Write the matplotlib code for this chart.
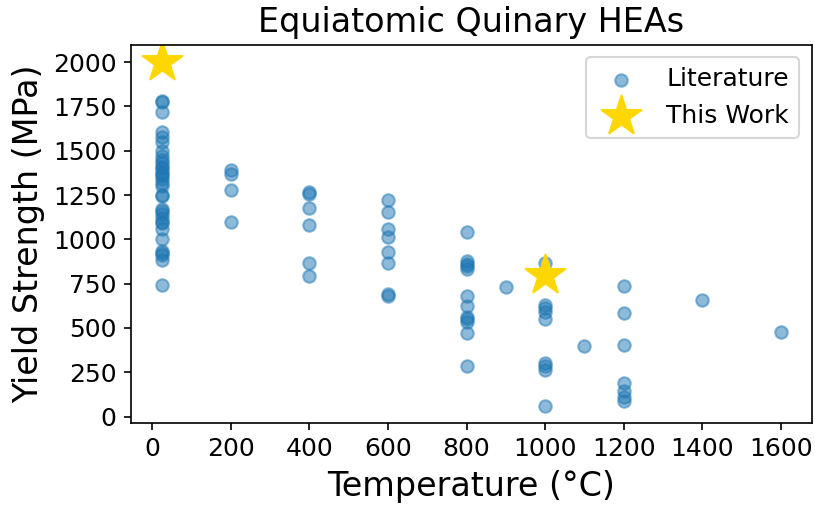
import matplotlib
matplotlib.use("Agg")
import matplotlib.pyplot as plt

# literature data, grouped by test temperature
temp_25 = [1780, 1775, 1720, 1605, 1580, 1550, 1500, 1470, 1450, 1430, 1410, 1400,
           1380, 1370, 1360, 1340, 1320, 1300, 1250, 1245, 1170, 1160, 1145, 1120,
           1100, 1090, 1060, 1000, 935, 925, 910, 885, 740]
temp_200 = [1390, 1370, 1277, 1099]
temp_400 = [1268, 1258, 1174, 1080, 869, 791]
temp_600 = [1224, 1152, 1060, 1015, 931, 869, 692, 682]
temp_800 = [1043, 875, 862, 848, 832, 679, 622, 560, 548, 535, 473, 286]
temp_900 = [731]
temp_1000 = [866, 632, 612, 592, 548, 300, 285, 262, 62]
temp_1100 = [398]
temp_1200 = [735, 585, 404, 189, 146, 109, 90]
temp_1400 = [660]
temp_1600 = [477]

groups = {25: temp_25, 200: temp_200, 400: temp_400, 600: temp_600, 800: temp_800,
          900: temp_900, 1000: temp_1000, 1100: temp_1100, 1200: temp_1200,
          1400: temp_1400, 1600: temp_1600}

lit_T = []
lit_YS = []
for t, vals in groups.items():
    lit_T += [t] * len(vals)
    lit_YS += vals

# this work
work_T = [25, 1000]
work_YS = [2000, 800]

fig = plt.figure(figsize=(815 / 150, 510 / 150), dpi=150)
ax = fig.add_axes([0.161, 0.171, 0.835, 0.741])
ax.scatter(lit_T, lit_YS, alpha=0.5, label="Literature")
ax.scatter(work_T, work_YS, s=400, marker="*", color="gold", label="This Work")

ax.set_title("Equiatomic Quinary HEAs", fontsize=16)
ax.set_xlabel("Temperature (°C)", fontsize=16)
ax.set_ylabel("Yield Strength (MPa)", fontsize=16)
ax.set_xticks(range(0, 1601, 200))
ax.set_yticks(range(0, 2001, 250))
ax.tick_params(labelsize=12)
ax.legend(loc="upper right", fontsize=12)

fig.savefig("out.png")
